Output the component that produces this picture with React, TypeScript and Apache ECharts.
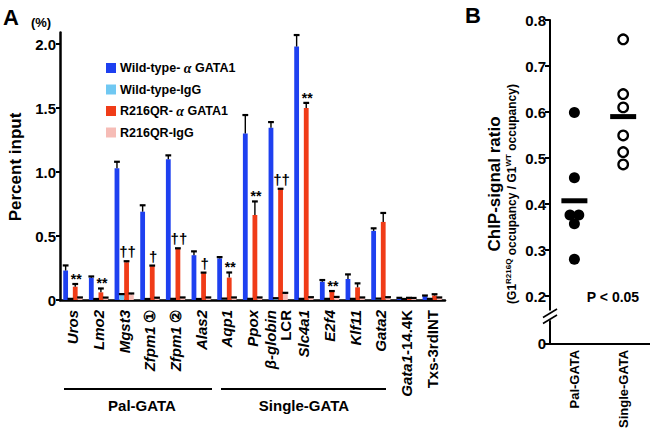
import React, { useEffect, useRef } from "react";
import * as echarts from "echarts";

const FF = "'Liberation Sans Narrow','Liberation Sans',Arial,sans-serif";

// ---- Panel A data ----
const categories = ["Uros", "Lmo2", "Mgst3", "Zfpm1 ①", "Zfpm1 ②", "Alas2", "Aqp1", "Ppox", "β-globin\nLCR", "Slc4a1", "E2f4", "Klf11", "Gata2", "Gata1-14.4K", "Txs-3rdINT"];
const seriesNames = ["Wild-type- α GATA1", "Wild-type-IgG", "R216QR- α GATA1", "R216QR-IgG"];
const wtGata1 = [0.23, 0.174, 1.03, 0.69, 1.10, 0.35, 0.325, 1.30, 1.346, 1.98, 0.143, 0.164, 0.54, 0.012, 0.03];
const wtGata1Err = [0.04, 0.01, 0.05, 0.05, 0.03, 0.03, 0.01, 0.145, 0.044, 0.09, 0.013, 0.036, 0.02, 0.005, 0.005];
const wtIgG = [0.006, 0.005, 0.04, 0.005, 0.006, 0.005, 0.008, 0.006, 0.01, 0.006, 0.006, 0.006, 0.008, 0.005, 0.006];
const wtIgGErr = [0.003, 0.003, 0.006, 0.003, 0.003, 0.003, 0.003, 0.003, 0.004, 0.003, 0.003, 0.003, 0.003, 0.003, 0.003];
const rGata1 = [0.104, 0.06, 0.295, 0.265, 0.40, 0.21, 0.175, 0.664, 0.865, 1.50, 0.065, 0.099, 0.61, 0.012, 0.035];
const rGata1Err = [0.021, 0.03, 0.008, 0.004, 0.004, 0.004, 0.04, 0.106, 0.004, 0.04, 0.005, 0.031, 0.07, 0.005, 0.01];
const rIgG = [0.016, 0.015, 0.045, 0.014, 0.016, 0.016, 0.016, 0.016, 0.05, 0.018, 0.02, 0.016, 0.018, 0.012, 0.016];
const rIgGErr = [0.004, 0.004, 0.006, 0.004, 0.004, 0.004, 0.004, 0.004, 0.006, 0.004, 0.004, 0.004, 0.004, 0.004, 0.004];
const rMarks = ["**", "**", "††", "†", "††", "†", "**", "**", "††", "**", "**", "", "", "", ""];
const yTicksA = [0, 0.5, 1.0, 1.5, 2.0];

// ---- Panel B data ----
const groupsB = ["Pal-GATA", "Single-GATA"];
const palVals = [0.599, 0.457, 0.376, 0.376, 0.357, 0.28];
const palPos = [1, 1, 0.91, 1.09, 1, 1];
const singleVals = [0.758, 0.639, 0.61, 0.549, 0.513, 0.486];
const singlePos = [2, 2, 2, 2, 2, 2];
const palMean = 0.407;
const singleMean = 0.59;
const yTicksB = [0.2, 0.3, 0.4, 0.5, 0.6, 0.7, 0.8];

const COLORS = ["#1e40f0", "#70c8f2", "#f03c18", "#f6bcb6"];
const BAR_W = 4.8;

const labelRich: Record<string, string> = {
  "Uros": "{i|Uros}",
  "Lmo2": "{i|Lmo2}",
  "Mgst3": "{i|Mgst3}",
  "Zfpm1 ①": "{i|Zfpm1} {n|①}",
  "Zfpm1 ②": "{i|Zfpm1} {n|②}",
  "Alas2": "{i|Alas2}",
  "Aqp1": "{i|Aqp1}",
  "Ppox": "{i|Ppox}",
  "β-globin\nLCR": "{i|β-globin}\n{n|LCR}",
  "Slc4a1": "{i|Slc4a1}",
  "E2f4": "{i|E2f4}",
  "Klf11": "{i|Klf11}",
  "Gata2": "{i|Gata2}",
  "Gata1-14.4K": "{i|Gata1}{n|-14.4K}",
  "Txs-3rdINT": "{n|Txs-3rdINT}",
};

function errSeries(i: number, vals: number[], errs: number[], marks?: string[]) {
  return {
    type: "custom",
    xAxisIndex: 0,
    yAxisIndex: 0,
    z: 5,
    silent: true,
    encode: { x: 0, y: [1, 2] },
    data: vals.map((v, k) => [k, v, v + errs[k]]),
    renderItem: (params: any, api: any) => {
      const k = api.value(0);
      const c = api.coord([k, api.value(1)]);
      const t = api.coord([k, api.value(2)]);
      const x = c[0] + (i - 1.5) * BAR_W;
      const children: any[] = [
        { type: "line", shape: { x1: x, y1: c[1], x2: x, y2: t[1] }, style: { stroke: "#000", lineWidth: 1.4 } },
        { type: "line", shape: { x1: x - BAR_W / 2 - 0.5, y1: t[1], x2: x + BAR_W / 2 + 0.5, y2: t[1] }, style: { stroke: "#000", lineWidth: 2.2 } },
      ];
      const m = marks ? marks[params.dataIndex] : "";
      if (m) {
        const star = m === "**";
        children.push({
          type: "text",
          x: x + 1,
          y: t[1] + (star ? 2 : -2),
          style: { text: m, font: `bold ${star ? 14 : 15}px ${FF}`, fill: "#000", textAlign: "center", textVerticalAlign: "bottom" },
        });
      }
      return { type: "group", children };
    },
  };
}

export default function App() {
  const ref = useRef<HTMLDivElement>(null);
  useEffect(() => {
    if (!ref.current) return;
    const chart = echarts.init(ref.current, null, { renderer: "svg" });
    const barVals = [wtGata1, wtIgG, rGata1, rIgG];
    const errVals = [wtGata1Err, wtIgGErr, rGata1Err, rIgGErr];
    const barSeries = barVals.map((vals, i) => ({
      name: seriesNames[i],
      type: "bar",
      xAxisIndex: 0,
      yAxisIndex: 0,
      barWidth: BAR_W,
      barGap: "0%",
      itemStyle: { color: COLORS[i] },
      data: vals,
      z: 3,
    }));
    const errs = errVals.map((e, i) => errSeries(i, barVals[i], e, i === 2 ? rMarks : undefined));

    const option: any = {
      animation: false,
      textStyle: { fontFamily: FF },
      grid: [
        { left: 60, top: 300 - 2.09 * 128, width: 385, height: 2.09 * 128 },
        { left: 550, top: 20, width: 100, height: (0.8 - 0.17) * 460 },
        { left: 550, top: 321, width: 100, height: 23 },
      ],
      legend: {
        left: 101,
        top: 56,
        orient: "vertical",
        itemWidth: 10,
        itemHeight: 10,
        itemGap: 8,
        selectedMode: false,
        data: seriesNames,
        icon: "rect",
        formatter: (n: string) => n.replace("α", "{g|α}"),
        textStyle: {
          fontFamily: FF,
          fontWeight: "bold",
          fontSize: 12.5,
          color: "#000",
          padding: [0, 0, 0, -1],
          rich: { g: { fontFamily: "'Liberation Serif',serif", fontStyle: "italic", fontSize: 14, color: "#000" } },
        },
      },
      xAxis: [
        {
          type: "category",
          gridIndex: 0,
          data: categories,
          axisLine: { lineStyle: { color: "#000", width: 2.5 } },
          axisTick: { length: 4, lineStyle: { color: "#000", width: 2 } },
          axisLabel: {
            interval: 0,
            rotate: 90,
            margin: 10,
            color: "#000",
            formatter: (v: string) => labelRich[v] || v,
            rich: {
              i: { fontFamily: FF, fontStyle: "italic", fontWeight: "bold", fontSize: 15, color: "#000", lineHeight: 15 },
              n: { fontFamily: FF, fontWeight: "bold", fontSize: 15, color: "#000", lineHeight: 15 },
            },
          },
        },
        { type: "value", gridIndex: 1, min: 0.5, max: 2.55, show: false },
        {
          type: "value",
          gridIndex: 2,
          min: 0.5,
          max: 2.55,
          splitLine: { show: false },
          axisLine: { lineStyle: { color: "#000", width: 2 } },
          axisTick: { show: false },
          axisLabel: {
            customValues: [1, 2],
            rotate: 90,
            margin: 6,
            color: "#000",
            fontFamily: FF,
            fontWeight: "bold",
            fontSize: 13,
            formatter: (v: number) => groupsB[Math.round(v) - 1],
          },
        },
      ],
      yAxis: [
        {
          type: "value",
          gridIndex: 0,
          min: 0,
          max: 2.09,
          splitLine: { show: false },
          axisLine: { show: true, lineStyle: { color: "#000", width: 2.5 } },
          axisTick: { show: true, customValues: yTicksA, length: 4, lineStyle: { color: "#000", width: 2 } },
          axisLabel: {
            customValues: yTicksA,
            margin: 4,
            color: "#000",
            fontFamily: FF,
            fontWeight: "bold",
            fontSize: 15,
            formatter: (v: number) => (v === 0 ? "0" : v.toFixed(1)),
          },
        },
        {
          type: "value",
          gridIndex: 1,
          min: 0.17,
          max: 0.8,
          splitLine: { show: false },
          axisLine: { show: true, lineStyle: { color: "#000", width: 2 } },
          axisTick: { show: true, customValues: yTicksB, length: 5, lineStyle: { color: "#000", width: 2 } },
          axisLabel: {
            customValues: yTicksB,
            margin: 4,
            color: "#000",
            fontFamily: FF,
            fontWeight: "bold",
            fontSize: 15,
            formatter: (v: number) => v.toFixed(1),
          },
        },
        {
          type: "value",
          gridIndex: 2,
          min: 0,
          max: 1,
          splitLine: { show: false },
          axisLine: { show: true, lineStyle: { color: "#000", width: 2 } },
          axisTick: { show: true, customValues: [0], length: 5, lineStyle: { color: "#000", width: 2 } },
          axisLabel: {
            customValues: [0],
            margin: 4,
            color: "#000",
            fontFamily: FF,
            fontWeight: "bold",
            fontSize: 15,
            formatter: () => "0",
          },
        },
      ],
      series: [
        ...barSeries,
        ...errs,
        {
          type: "scatter",
          xAxisIndex: 1,
          yAxisIndex: 1,
          symbol: "circle",
          symbolSize: 11,
          itemStyle: { color: "#000", opacity: 1 },
          data: palVals.map((v, k) => [palPos[k], v]),
          z: 4,
        },
        {
          type: "scatter",
          xAxisIndex: 1,
          yAxisIndex: 1,
          symbol: "circle",
          symbolSize: 9.5,
          itemStyle: { color: "#fff", borderColor: "#000", borderWidth: 2.3, opacity: 1 },
          data: singleVals.map((v, k) => [singlePos[k], v]),
          z: 4,
        },
        {
          type: "scatter",
          xAxisIndex: 1,
          yAxisIndex: 1,
          symbol: "rect",
          symbolSize: [26, 5],
          itemStyle: { color: "#000", opacity: 1 },
          data: [[1, palMean], [2, singleMean]],
          z: 6,
        },
      ],
      graphic: [
        { type: "text", x: 3, y: 6, style: { text: "A", font: `bold 22px ${FF}`, fill: "#000" } },
        { type: "text", x: 465, y: 4, style: { text: "B", font: `bold 22px ${FF}`, fill: "#000" } },
        { type: "text", x: 41, y: 22, style: { text: "(%)", font: `bold 13px ${FF}`, fill: "#000", textAlign: "center", textVerticalAlign: "middle" } },
        { type: "text", x: 15, y: 167, rotation: Math.PI / 2, style: { text: "Percent input", font: `bold 17px ${FF}`, fill: "#000", textAlign: "center", textVerticalAlign: "middle" } },
        { type: "line", shape: { x1: 64, y1: 389, x2: 212, y2: 389 }, style: { stroke: "#000", lineWidth: 2 } },
        { type: "line", shape: { x1: 221, y1: 389, x2: 386, y2: 389 }, style: { stroke: "#000", lineWidth: 2 } },
        { type: "text", x: 142, y: 405, style: { text: "Pal-GATA", font: `bold 15px ${FF}`, fill: "#000", textAlign: "center", textVerticalAlign: "middle" } },
        { type: "text", x: 304, y: 405, style: { text: "Single-GATA", font: `bold 15px ${FF}`, fill: "#000", textAlign: "center", textVerticalAlign: "middle" } },
        { type: "text", x: 494, y: 184, rotation: Math.PI / 2, style: { text: "ChIP-signal ratio", font: `bold 17px ${FF}`, fill: "#000", textAlign: "center", textVerticalAlign: "middle" } },
        {
          type: "text",
          x: 511,
          y: 194,
          rotation: Math.PI / 2,
          style: {
            text: "{n|(G1}{s|R216Q}{n| occupancy / G1}{s|WT}{n| occupancy)}",
            textAlign: "center",
            textVerticalAlign: "middle",
            rich: {
              n: { font: `bold 12px ${FF}`, fill: "#000", lineHeight: 14, verticalAlign: "bottom" },
              s: { font: `bold 8px ${FF}`, fill: "#000", lineHeight: 14, verticalAlign: "top" },
            },
          },
        },
        { type: "text", x: 613, y: 297, style: { text: "P < 0.05", font: `bold 14px ${FF}`, fill: "#000", textAlign: "center", textVerticalAlign: "middle" } },
        { type: "line", shape: { x1: 543, y1: 317.5, x2: 557, y2: 309 }, style: { stroke: "#000", lineWidth: 1.6 } },
        { type: "line", shape: { x1: 543, y1: 323.5, x2: 557, y2: 315 }, style: { stroke: "#000", lineWidth: 1.6 } },
      ],
    };
    chart.setOption(option);
    return () => chart.dispose();
  }, []);
  return <div ref={ref} style={{ width: 650, height: 431, position: "absolute", left: 0, top: 0 }} />;
}
